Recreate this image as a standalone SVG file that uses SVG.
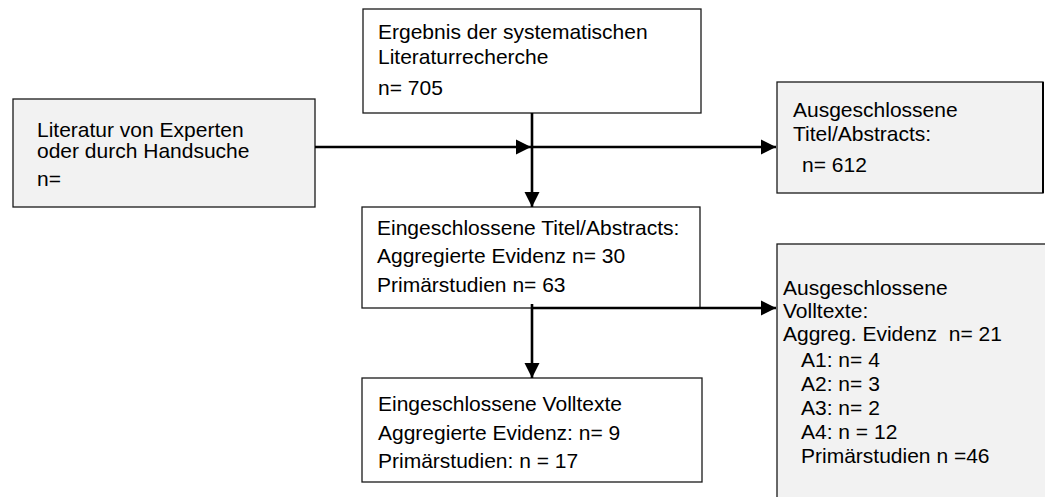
<svg xmlns="http://www.w3.org/2000/svg" width="1045" height="497" viewBox="0 0 1045 497">
  <style>
    .box { stroke: #1a1a1a; stroke-width: 1.3; }
    .grey { fill: #f2f2f2; }
    .white { fill: #ffffff; }
    .lbl { font-family: "Liberation Sans", Arial, sans-serif; font-size: 21px; fill: #000; }
    .conn { stroke: #000; stroke-width: 2.6; fill: none; }
  </style>
  <defs>
    <marker id="arrow" markerUnits="userSpaceOnUse" markerWidth="16" markerHeight="16" viewBox="0 0 16 16" refX="15" refY="8" orient="auto">
      <path d="M0,0.5 L15,8 L0,15.5 Z" fill="#000"/>
    </marker>
  </defs>
  <rect width="1045" height="497" fill="#ffffff"/>

  <!-- search result -->
  <g id="node-search">
    <rect class="box white" x="363" y="9" width="338" height="104"/>
    <text class="lbl" x="378" y="39">Ergebnis der systematischen</text>
    <text class="lbl" x="378" y="64">Literaturrecherche</text>
    <text class="lbl" x="378" y="95">n= 705</text>
  </g>

  <!-- expert / hand search -->
  <g id="node-handsearch">
    <rect class="box grey" x="13" y="99" width="302" height="108"/>
    <text class="lbl" x="37" y="137">Literatur von Experten</text>
    <text class="lbl" x="37" y="158">oder durch Handsuche</text>
    <text class="lbl" x="37" y="186">n=</text>
  </g>

  <!-- excluded titles/abstracts -->
  <g id="node-excluded-abstracts">
    <rect class="box grey" x="777" y="82" width="266" height="111"/>
    <line x1="1043" y1="82" x2="1043" y2="193" stroke="#000" stroke-width="2"/>
    <text class="lbl" x="793" y="117">Ausgeschlossene</text>
    <text class="lbl" x="793" y="141">Titel/Abstracts:</text>
    <text class="lbl" x="802" y="172">n= 612</text>
  </g>

  <!-- included titles/abstracts -->
  <g id="node-included-abstracts">
    <rect class="box white" x="362" y="207" width="338" height="101"/>
    <text class="lbl" x="377" y="235">Eingeschlossene Titel/Abstracts:</text>
    <text class="lbl" x="377" y="263">Aggregierte Evidenz n= 30</text>
    <text class="lbl" x="377" y="292">Primärstudien n= 63</text>
  </g>

  <!-- excluded full texts -->
  <g id="node-excluded-fulltexts">
    <rect class="box grey" x="777" y="244" width="290" height="280"/>
    <text class="lbl" x="783" y="295">Ausgeschlossene</text>
    <text class="lbl" x="783" y="318">Volltexte:</text>
    <text class="lbl" x="783" y="341" xml:space="preserve">Aggreg. Evidenz  n= 21</text>
    <text class="lbl" x="801" y="367">A1: n= 4</text>
    <text class="lbl" x="801" y="391">A2: n= 3</text>
    <text class="lbl" x="801" y="415">A3: n= 2</text>
    <text class="lbl" x="801" y="439">A4: n = 12</text>
    <text class="lbl" x="801" y="463">Primärstudien n =46</text>
  </g>

  <!-- included full texts -->
  <g id="node-included-fulltexts">
    <rect class="box white" x="362" y="378" width="340" height="104"/>
    <text class="lbl" x="378" y="411">Eingeschlossene Volltexte</text>
    <text class="lbl" x="378" y="440">Aggregierte Evidenz: n= 9</text>
    <text class="lbl" x="378" y="468">Primärstudien: n = 17</text>
  </g>

  <!-- connectors -->
  <g id="connectors">
    <line class="conn" x1="315" y1="147" x2="531" y2="147" marker-end="url(#arrow)"/>
    <line class="conn" x1="532" y1="147" x2="776" y2="147" marker-end="url(#arrow)"/>
    <line class="conn" x1="532" y1="113" x2="532" y2="207" marker-end="url(#arrow)"/>
    <line class="conn" x1="532" y1="304" x2="532" y2="378" marker-end="url(#arrow)"/>
    <line class="conn" x1="532" y1="308" x2="776" y2="308" marker-end="url(#arrow)"/>
  </g>
</svg>
